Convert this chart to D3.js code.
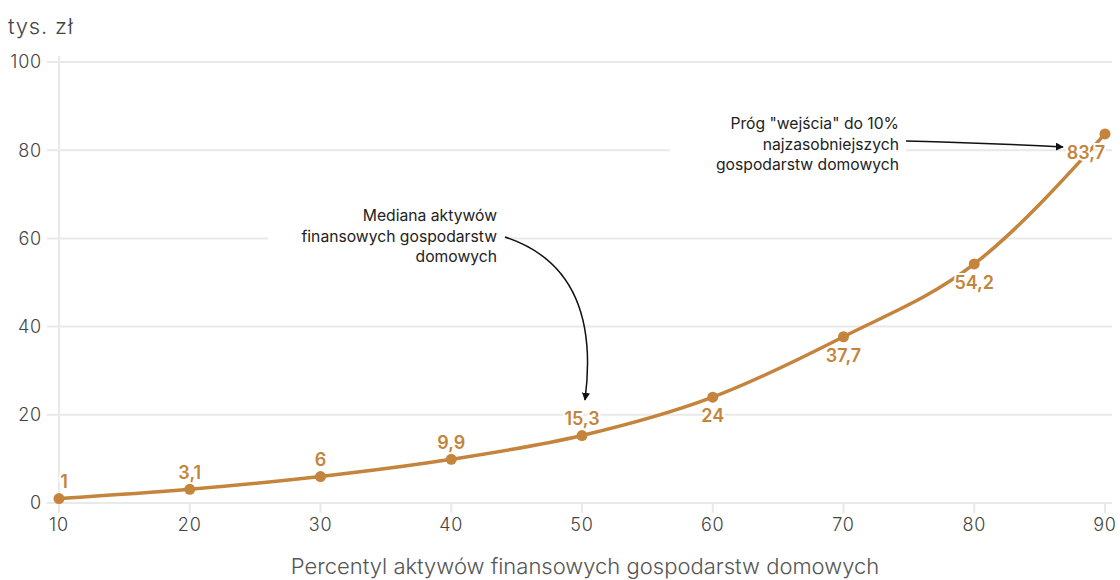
<!DOCTYPE html>
<meta charset="utf-8">
<script src="https://d3js.org/d3.v7.min.js"></script>
<style>
  body { margin: 0; background: #fff; }
  text { font-family: Inter, "Open Sans", sans-serif; }
</style>
<svg id="chart" width="1120" height="580"></svg>
<script>
// percentiles and values (tys. zł)
const percentiles = [10, 20, 30, 40, 50, 60, 70, 80, 90];
const values = [1, 3.1, 6, 9.9, 15.3, 24, 37.7, 54.2, 83.7];
const valueLabels = ["1", "3,1", "6", "9,9", "15,3", "24", "37,7", "54,2", "83,7"];
const labelSide = ["above", "above", "above", "above", "above", "below", "below", "below", "below"];
const yTicks = [0, 20, 40, 60, 80, 100];
const xTicks = [10, 20, 30, 40, 50, 60, 70, 80, 90];

const svg = d3.select("#chart");
const lineColor = "#c4843b";

const x = d3.scaleLinear().domain([10, 90]).range([59, 1105]);
const y = d3.scaleLinear().domain([0, 100]).range([503, 62]);

// grid
const grid = svg.append("g");
grid.selectAll("line.h").data(yTicks).join("line")
  .attr("x1", 47).attr("x2", 1112)
  .attr("y1", d => y(d)).attr("y2", d => y(d))
  .attr("stroke", "#e9e9e9").attr("stroke-width", 2);
grid.append("line")
  .attr("x1", x(10)).attr("x2", x(10))
  .attr("y1", 56).attr("y2", 513)
  .attr("stroke", "#e9e9e9").attr("stroke-width", 2);
grid.selectAll("line.t").data(xTicks.slice(1)).join("line")
  .attr("x1", d => x(d)).attr("x2", d => x(d))
  .attr("y1", 503).attr("y2", 513)
  .attr("stroke", "#e9e9e9").attr("stroke-width", 2);

// y tick labels
svg.append("g").selectAll("text").data(yTicks).join("text")
  .attr("x", 42).attr("y", d => y(d)).attr("dy", "0.35em")
  .attr("text-anchor", "end")
  .attr("font-size", 18).attr("letter-spacing", 0.8).attr("fill", "#444").attr("font-weight", 300)
  .text(d => d);

// x tick labels
svg.append("g").selectAll("text").data(xTicks).join("text")
  .attr("x", d => x(d)).attr("y", 525).attr("dy", "0.35em")
  .attr("text-anchor", "middle")
  .attr("font-size", 18).attr("letter-spacing", 0.8).attr("fill", "#444").attr("font-weight", 300)
  .text(d => d);

svg.append("text").attr("x", 8).attr("y", 26).attr("dy", "0.35em")
  .attr("font-size", 22).attr("letter-spacing", 0.8).attr("fill", "#444").attr("font-weight", 300)
  .text("tys. zł");

svg.append("text").attr("x", 585).attr("y", 566).attr("dy", "0.35em")
  .attr("text-anchor", "middle")
  .attr("font-size", 22).attr("fill", "#555").attr("font-weight", 300)
  .text("Percentyl aktywów finansowych gospodarstw domowych");

// annotation backgrounds
svg.append("rect").attr("x", 268).attr("y", 186).attr("width", 236).attr("height", 82).attr("fill", "#fff");
svg.append("rect").attr("x", 670).attr("y", 95).attr("width", 236).attr("height", 82).attr("fill", "#fff");

// line
const line = d3.line()
  .x((d, i) => x(percentiles[i]))
  .y(d => y(d))
  .curve(d3.curveMonotoneX);
svg.append("path").datum(values)
  .attr("d", line)
  .attr("fill", "none").attr("stroke", lineColor).attr("stroke-width", 3.5);

// value labels with white halo
svg.append("g").selectAll("text").data(values).join("text")
  .attr("x", (d, i) => i === 0 ? x(percentiles[i]) + 5 : x(percentiles[i]))
  .attr("y", (d, i) => labelSide[i] === "above" ? y(d) - 17 : y(d) + 19)
  .attr("dy", "0.35em")
  .attr("text-anchor", (d, i) => i === 8 ? "end" : "middle")
  .attr("font-size", 18).attr("font-weight", 600)
  .attr("fill", lineColor)
  .attr("stroke", "#fff").attr("stroke-width", 4).attr("paint-order", "stroke")
  .text((d, i) => valueLabels[i]);

// dots
svg.append("g").selectAll("circle").data(values).join("circle")
  .attr("cx", (d, i) => x(percentiles[i]))
  .attr("cy", d => y(d))
  .attr("r", 5.5).attr("fill", lineColor);

// arrows
const defs = svg.append("defs");
defs.append("marker").attr("id", "arrow")
  .attr("viewBox", "0 0 10 10").attr("refX", 9).attr("refY", 5)
  .attr("markerWidth", 8).attr("markerHeight", 8).attr("orient", "auto-start-reverse")
  .attr("markerUnits", "userSpaceOnUse")
  .append("path").attr("d", "M0,0 L10,5 L0,10 z").attr("fill", "#111");

svg.append("path")
  .attr("d", "M505,237 C560,255 598,300 585,400")
  .attr("fill", "none").attr("stroke", "#111").attr("stroke-width", 1.5)
  .attr("marker-end", "url(#arrow)");
svg.append("path")
  .attr("d", "M906,141 Q990,143 1063,147")
  .attr("fill", "none").attr("stroke", "#111").attr("stroke-width", 1.5)
  .attr("marker-end", "url(#arrow)");

// annotation text
const ann1 = ["Mediana aktywów", "finansowych gospodarstw", "domowych"];
const ann2 = ["Próg \"wejścia\" do 10%", "najzasobniejszych", "gospodarstw domowych"];
svg.append("g").selectAll("text").data(ann1).join("text")
  .attr("x", 497).attr("y", (d, i) => 216 + i * 20.5).attr("dy", "0.35em")
  .attr("text-anchor", "end").attr("font-size", 15.7).attr("fill", "#222")
  .text(d => d);
svg.append("g").selectAll("text").data(ann2).join("text")
  .attr("x", 899).attr("y", (d, i) => 124 + i * 20.5).attr("dy", "0.35em")
  .attr("text-anchor", "end").attr("font-size", 15.7).attr("fill", "#222")
  .text(d => d);
</script>
